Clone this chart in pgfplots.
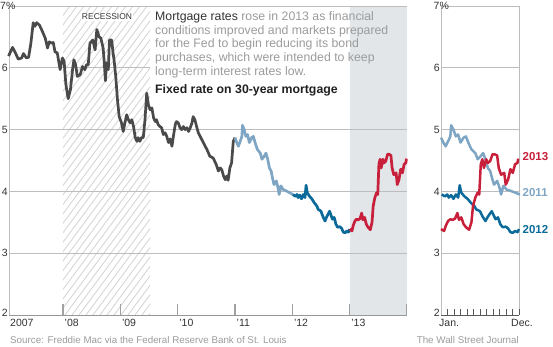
\documentclass[border=0pt]{standalone}
\usepackage{pgfplots}
\usepackage{pgfplotstable}
\pgfplotsset{compat=1.18}
\usepackage{fontspec}
\setmainfont{Liberation Sans}
\definecolor{cgrey}{HTML}{4A4A4A}
\definecolor{c11}{HTML}{7EA6C4}
\definecolor{c12}{HTML}{0B6A99}
\definecolor{c13}{HTML}{C8203B}
\definecolor{bgshade}{HTML}{E2E6E9}
\definecolor{gridc}{HTML}{BDBDBD}
\definecolor{hatchc}{HTML}{D6D6D6}
\definecolor{lightt}{HTML}{9B9B9B}
\definecolor{darkt}{HTML}{333333}

\pgfplotstableread{
x y
2007.05 6.19
2007.12 6.33
2007.16 6.26
2007.22 6.14
2007.28 6.16
2007.31 6.23
2007.36 6.16
2007.40 6.17
2007.44 6.40
2007.48 6.73
2007.51 6.67
2007.54 6.73
2007.59 6.69
2007.64 6.59
2007.69 6.48
2007.73 6.32
2007.76 6.42
2007.80 6.40
2007.83 6.41
2007.86 6.26
2007.90 6.24
2007.95 5.97
2007.99 6.16
2008.02 6.10
2008.05 5.73
2008.09 5.50
2008.13 5.65
2008.17 6.00
2008.19 6.13
2008.22 6.05
2008.25 5.86
2008.30 5.89
2008.34 6.02
2008.38 5.97
2008.41 6.05
2008.44 6.05
2008.47 6.40
2008.52 6.45
2008.56 6.29
2008.59 6.62
2008.63 6.50
2008.66 6.48
2008.70 6.32
2008.72 6.08
2008.74 5.79
2008.76 6.08
2008.79 5.97
2008.81 6.45
2008.85 6.45
2008.87 6.26
2008.89 6.13
2008.92 5.86
2008.95 5.48
2008.98 5.21
2009.02 5.11
2009.05 4.97
2009.08 5.11
2009.11 5.24
2009.14 5.16
2009.17 5.11
2009.20 5.16
2009.23 5.05
2009.26 4.87
2009.29 4.81
2009.31 4.87
2009.34 4.81
2009.37 4.87
2009.40 4.87
2009.43 5.16
2009.46 5.59
2009.49 5.40
2009.52 5.32
2009.55 5.35
2009.58 5.19
2009.61 5.13
2009.63 5.16
2009.66 5.08
2009.69 5.05
2009.72 5.03
2009.75 4.92
2009.78 4.95
2009.81 4.89
2009.84 4.79
2009.87 4.85
2009.90 4.73
2009.93 4.92
2009.96 5.09
2009.98 5.13
2010.01 5.11
2010.04 5.03
2010.07 5.00
2010.10 5.05
2010.13 5.00
2010.16 5.03
2010.19 4.97
2010.22 5.03
2010.25 5.11
2010.27 5.21
2010.30 5.16
2010.33 5.05
2010.36 4.95
2010.42 4.84
2010.48 4.73
2010.51 4.68
2010.56 4.57
2010.62 4.54
2010.67 4.44
2010.71 4.33
2010.74 4.38
2010.77 4.35
2010.80 4.25
2010.83 4.19
2010.86 4.25
2010.88 4.18
2010.91 4.38
2010.94 4.46
2010.97 4.81
2011.00 4.87
}\tgrey

\pgfplotstableread{
x y
2011.00 4.87
2011.03 4.79
2011.06 4.73
2011.09 4.81
2011.12 4.89
2011.13 5.07
2011.16 5.00
2011.19 4.89
2011.22 4.92
2011.25 4.79
2011.29 4.87
2011.32 4.89
2011.35 4.79
2011.39 4.68
2011.44 4.62
2011.47 4.52
2011.51 4.57
2011.54 4.62
2011.57 4.52
2011.60 4.38
2011.63 4.33
2011.66 4.19
2011.68 4.11
2011.72 4.17
2011.75 4.06
2011.77 3.95
2011.80 4.09
2011.84 4.03
2011.89 4.01
2011.93 3.99
2011.97 3.97
2012.01 3.95
}\televen

\pgfplotstableread{
x y
2012.01 3.95
2012.05 3.92
2012.08 3.95
2012.10 3.90
2012.13 3.94
2012.16 3.88
2012.19 3.95
2012.22 3.90
2012.24 4.10
2012.26 3.98
2012.30 3.92
2012.34 3.88
2012.38 3.82
2012.43 3.76
2012.45 3.71
2012.50 3.68
2012.53 3.60
2012.57 3.52
2012.60 3.59
2012.65 3.68
2012.68 3.60
2012.70 3.55
2012.73 3.58
2012.76 3.47
2012.79 3.42
2012.83 3.43
2012.86 3.40
2012.89 3.34
2012.92 3.33
2012.95 3.36
2012.98 3.34
2013.00 3.39
}\ttwelve

\pgfplotstableread{
x y
2013.00 3.39
2013.04 3.36
2013.06 3.44
2013.09 3.52
2013.12 3.55
2013.15 3.54
2013.18 3.56
2013.21 3.65
2013.23 3.54
2013.26 3.58
2013.29 3.47
2013.32 3.42
2013.36 3.38
2013.39 3.50
2013.41 3.76
2013.44 3.90
2013.47 3.98
2013.49 3.95
2013.51 4.44
2013.53 4.52
2013.55 4.38
2013.58 4.52
2013.60 4.46
2013.63 4.49
2013.66 4.60
2013.69 4.60
2013.72 4.58
2013.74 4.38
2013.77 4.27
2013.81 4.30
2013.83 4.11
2013.86 4.19
2013.89 4.36
2013.92 4.30
2013.95 4.44
2013.98 4.46
2013.99 4.53
}\tthirteen

\begin{document}
\begin{tikzpicture}
\begin{scope}[x=1pt,y=1pt]
\path[use as bounding box] (0,0) rectangle (553,346);
% ---------- main panel background ----------
\fill[bgshade] (349.65,31) rectangle (407,340);
\begin{scope}
\clip (63,31) rectangle (150,340);
\foreach \i in {0,7,...,420} {
  \draw[hatchc, line width=0.9pt] (63-229+\i,31) -- ++(229,309);
}
\end{scope}
\foreach \yy in {92.8,154.6,216.4,340} {
  \draw[gridc, line width=0.8pt] (9,\yy) -- (407,\yy);
}
\draw[gridc, line width=0.8pt] (9,278.2) -- (150,278.2);
\draw[gridc, line width=0.8pt] (9,31) -- (9,340);
\draw[gridc!80!black, line width=0.9pt] (9,31) -- (407,31);
\foreach \xx in {63,120.33,177.66,235,292.3,349.65,406.5} {
  \draw[gridc!85!black, line width=1.3pt] (\xx,31) -- (\xx,42);
}
% ---------- right panel background ----------
\foreach \yy in {92.8,154.6,216.4,278.2,340} {
  \draw[gridc, line width=0.8pt] (441,\yy) -- (519,\yy);
}
\draw[gridc, line width=0.8pt] (441,31) -- (441,340);
\draw[gridc, line width=0.8pt] (519,31) -- (519,340);
\draw[black!65, line width=0.8pt] (441,31) -- (519,31);
\foreach \k in {1,...,12} {
  \draw[black!65, line width=0.7pt] (441+6.5*\k,31) -- (441+6.5*\k,37);
}
\end{scope}
% ---------- main panel data ----------
\begin{axis}[at={(9pt,31pt)}, anchor=south west, scale only axis,
  width=398pt, height=309pt, xmin=2007.058, xmax=2014, ymin=2, ymax=7,
  hide axis, clip=false]
\addplot[cgrey, line width=2.7pt, line join=round, mark=none] table[x=x,y=y] {\tgrey};
\addplot[c11, line width=2.7pt, line join=round, mark=none] table[x=x,y=y] {\televen};
\addplot[c12, line width=2.7pt, line join=round, mark=none] table[x=x,y=y] {\ttwelve};
\addplot[c13, line width=2.7pt, line join=round, mark=none] table[x=x,y=y] {\tthirteen};
\end{axis}
% ---------- right panel data ----------
\begin{axis}[at={(441pt,31pt)}, anchor=south west, scale only axis,
  width=78pt, height=309pt, xmin=0, xmax=1, ymin=2, ymax=7,
  hide axis, clip=false]
\addplot[c11, line width=2.5pt, line join=round, mark=none] table[x expr=\thisrow{x}-2011,y=y] {\televen};
\addplot[c12, line width=2.5pt, line join=round, mark=none] table[x expr=\thisrow{x}-2012,y=y] {\ttwelve};
\addplot[c13, line width=2.5pt, line join=round, mark=none] table[x expr=\thisrow{x}-2013,y=y] {\tthirteen};
\end{axis}
% ---------- texts ----------
\begin{scope}[x=1pt,y=1pt]
\begin{scope}[every node/.style={inner sep=0pt, font=\fontsize{10.5}{12}\selectfont, text=darkt}]
\node[anchor=west] at (0,340) {7\%};
\node[anchor=east] at (8,278.2) {6};
\node[anchor=east] at (8,216.4) {5};
\node[anchor=east] at (8,154.6) {4};
\node[anchor=east] at (8,92.8) {3};
\node[anchor=east] at (8,33) {2};
\node[anchor=west] at (433.5,340) {7\%};
\node[anchor=east] at (440,278.2) {6};
\node[anchor=east] at (440,216.4) {5};
\node[anchor=east] at (440,154.6) {4};
\node[anchor=east] at (440,92.8) {3};
\node[anchor=east] at (440,33) {2};
\node[anchor=base west] at (10,19.5) {2007};
\node[anchor=base west] at (64.5,19.5) {'08};
\node[anchor=base west] at (121.8,19.5) {'09};
\node[anchor=base west] at (179.2,19.5) {'10};
\node[anchor=base west] at (236.5,19.5) {'11};
\node[anchor=base west] at (293.8,19.5) {'12};
\node[anchor=base west] at (351.2,19.5) {'13};
\node[anchor=base west] at (439,19.5) {Jan.};
\node[anchor=base east] at (533,19.5) {Dec.};
\end{scope}
\node[inner sep=1pt, fill=white, text=darkt, font=\fontsize{8.5}{10}\selectfont] at (107,329) {RECESSION};
\begin{scope}[every node/.style={inner sep=0pt, anchor=base west, font=\fontsize{12.3}{13.6}\selectfont, text=lightt}]
\node at (155,325.3) {\textcolor{darkt}{Mortgage rates} rose in 2013 as financial};
\node at (155,311.7) {conditions improved and markets prepared};
\node at (155,298.1) {for the Fed to begin reducing its bond};
\node at (155,284.5) {purchases, which were intended to keep};
\node at (155,270.9) {long-term interest rates low.};
\node[text=black!88] at (155,252.7) {\bfseries Fixed rate on 30-year mortgage};
\end{scope}
\begin{scope}[every node/.style={inner sep=0pt, anchor=west, font=\fontsize{11.5}{13}\selectfont\bfseries}]
\node[text=c13] at (522.5,189.3) {2013};
\node[text=c11] at (522.5,153.3) {2011};
\node[text=c12] at (522.5,116.7) {2012};
\end{scope}
\begin{scope}[every node/.style={inner sep=0pt, anchor=base west, font=\fontsize{9.8}{11}\selectfont, text=lightt}]
\node at (10,3) {Source: Freddie Mac via the Federal Reserve Bank of St. Louis};
\node[anchor=base east] at (519,3) {The Wall Street Journal};
\end{scope}
\end{scope}
\end{tikzpicture}
\end{document}
